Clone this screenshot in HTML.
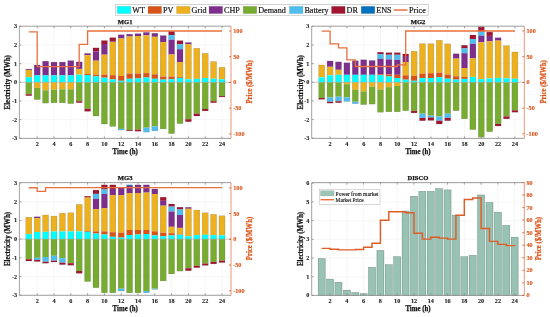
<!DOCTYPE html>
<html><head><meta charset="utf-8"><title>Chart</title>
<style>
html,body{margin:0;padding:0;background:#fff;}
body{width:550px;height:317px;overflow:hidden;}
svg{display:block;}
.txt{opacity:0.995;}
text{font-family:"Liberation Serif", serif;}
.tk{font-size:6.2px;font-weight:bold;fill:#1a1a1a;stroke:#1a1a1a;stroke-width:0.12px;}
.tt{font-size:6.6px;font-weight:bold;fill:#111;stroke:#111;stroke-width:0.25px;}
.lb{font-size:7.6px;font-weight:bold;fill:#111;stroke:#111;stroke-width:0.25px;}
.tm{font-size:7.2px;}
.lg{font-size:8.2px;fill:#111;stroke:#111;stroke-width:0.18px;}
.lg2{font-size:6.5px;fill:#111;stroke:#111;stroke-width:0.15px;}
.or{fill:#D95319;stroke:#D95319;}
</style></head>
<body>
<svg width="550" height="317" viewBox="0 0 550 317">
<rect width="550" height="317" fill="#fff"/>
<rect x="115.6" y="4.5" width="312.6" height="10.8" fill="#fff" stroke="#c8c8c8" stroke-width="0.8"/>
<rect x="117.2" y="6.3" width="13.6" height="7.3" fill="#00FFFF" stroke="#555" stroke-opacity="0.3" stroke-width="0.4"/>
<rect x="148" y="6.3" width="13.6" height="7.3" fill="#D95319" stroke="#555" stroke-opacity="0.3" stroke-width="0.4"/>
<rect x="176.5" y="6.3" width="13.6" height="7.3" fill="#EDB120" stroke="#555" stroke-opacity="0.3" stroke-width="0.4"/>
<rect x="209" y="6.3" width="13.6" height="7.3" fill="#7E2F8E" stroke="#555" stroke-opacity="0.3" stroke-width="0.4"/>
<rect x="243.2" y="6.3" width="13.6" height="7.3" fill="#77AC30" stroke="#555" stroke-opacity="0.3" stroke-width="0.4"/>
<rect x="289.4" y="6.3" width="13.6" height="7.3" fill="#4DBEEE" stroke="#555" stroke-opacity="0.3" stroke-width="0.4"/>
<rect x="331.5" y="6.3" width="13.6" height="7.3" fill="#A2142F" stroke="#555" stroke-opacity="0.3" stroke-width="0.4"/>
<rect x="361.2" y="6.3" width="13.6" height="7.3" fill="#0072BD" stroke="#555" stroke-opacity="0.3" stroke-width="0.4"/>
<line x1="394" y1="10" x2="407.5" y2="10" stroke="#E8703F" stroke-width="1.5"/>
<line x1="37.2" y1="26.2" x2="37.2" y2="138.4" stroke="#f0f0f0" stroke-width="0.6"/>
<line x1="54" y1="26.2" x2="54" y2="138.4" stroke="#f0f0f0" stroke-width="0.6"/>
<line x1="70.8" y1="26.2" x2="70.8" y2="138.4" stroke="#f0f0f0" stroke-width="0.6"/>
<line x1="87.6" y1="26.2" x2="87.6" y2="138.4" stroke="#f0f0f0" stroke-width="0.6"/>
<line x1="104.4" y1="26.2" x2="104.4" y2="138.4" stroke="#f0f0f0" stroke-width="0.6"/>
<line x1="121.2" y1="26.2" x2="121.2" y2="138.4" stroke="#f0f0f0" stroke-width="0.6"/>
<line x1="138" y1="26.2" x2="138" y2="138.4" stroke="#f0f0f0" stroke-width="0.6"/>
<line x1="154.8" y1="26.2" x2="154.8" y2="138.4" stroke="#f0f0f0" stroke-width="0.6"/>
<line x1="171.6" y1="26.2" x2="171.6" y2="138.4" stroke="#f0f0f0" stroke-width="0.6"/>
<line x1="188.4" y1="26.2" x2="188.4" y2="138.4" stroke="#f0f0f0" stroke-width="0.6"/>
<line x1="205.2" y1="26.2" x2="205.2" y2="138.4" stroke="#f0f0f0" stroke-width="0.6"/>
<line x1="222" y1="26.2" x2="222" y2="138.4" stroke="#f0f0f0" stroke-width="0.6"/>
<line x1="19.4" y1="26.35" x2="231" y2="26.35" stroke="#f0f0f0" stroke-width="0.6"/>
<line x1="19.4" y1="45" x2="231" y2="45" stroke="#f0f0f0" stroke-width="0.6"/>
<line x1="19.4" y1="63.65" x2="231" y2="63.65" stroke="#f0f0f0" stroke-width="0.6"/>
<line x1="19.4" y1="82.3" x2="231" y2="82.3" stroke="#f0f0f0" stroke-width="0.6"/>
<line x1="19.4" y1="100.95" x2="231" y2="100.95" stroke="#f0f0f0" stroke-width="0.6"/>
<line x1="19.4" y1="119.6" x2="231" y2="119.6" stroke="#f0f0f0" stroke-width="0.6"/>
<line x1="19.4" y1="138.25" x2="231" y2="138.25" stroke="#f0f0f0" stroke-width="0.6"/>
<rect x="25.8" y="69" width="6" height="0.9" fill="#7E2F8E"/>
<rect x="25.8" y="69.9" width="6" height="7.3" fill="#EDB120"/>
<rect x="25.8" y="77.2" width="6" height="5.1" fill="#00FFFF"/>
<rect x="25.8" y="82.3" width="6" height="11.9" fill="#77AC30"/>
<rect x="25.8" y="94.2" width="6" height="1.5" fill="#A2142F"/>
<rect x="25.8" y="69" width="6" height="26.7" fill="none" stroke="#333" stroke-opacity="0.35" stroke-width="0.4"/>
<rect x="34.2" y="65" width="6" height="10.4" fill="#7E2F8E"/>
<rect x="34.2" y="75.4" width="6" height="6.9" fill="#00FFFF"/>
<rect x="34.2" y="82.3" width="6" height="5.6" fill="#EDB120"/>
<rect x="34.2" y="87.9" width="6" height="11.7" fill="#77AC30"/>
<rect x="34.2" y="65" width="6" height="34.6" fill="none" stroke="#333" stroke-opacity="0.35" stroke-width="0.4"/>
<rect x="42.6" y="61.2" width="6" height="14.2" fill="#7E2F8E"/>
<rect x="42.6" y="75.4" width="6" height="6.9" fill="#00FFFF"/>
<rect x="42.6" y="82.3" width="6" height="8" fill="#EDB120"/>
<rect x="42.6" y="90.3" width="6" height="12.8" fill="#77AC30"/>
<rect x="42.6" y="61.2" width="6" height="41.9" fill="none" stroke="#333" stroke-opacity="0.35" stroke-width="0.4"/>
<rect x="51" y="62.1" width="6" height="13.3" fill="#7E2F8E"/>
<rect x="51" y="75.4" width="6" height="6.9" fill="#00FFFF"/>
<rect x="51" y="82.3" width="6" height="7.5" fill="#EDB120"/>
<rect x="51" y="89.8" width="6" height="13" fill="#77AC30"/>
<rect x="51" y="62.1" width="6" height="40.7" fill="none" stroke="#333" stroke-opacity="0.35" stroke-width="0.4"/>
<rect x="59.4" y="62.1" width="6" height="13.3" fill="#7E2F8E"/>
<rect x="59.4" y="75.4" width="6" height="6.9" fill="#00FFFF"/>
<rect x="59.4" y="82.3" width="6" height="7" fill="#EDB120"/>
<rect x="59.4" y="89.3" width="6" height="13.5" fill="#77AC30"/>
<rect x="59.4" y="62.1" width="6" height="40.7" fill="none" stroke="#333" stroke-opacity="0.35" stroke-width="0.4"/>
<rect x="67.8" y="60.7" width="6" height="14.7" fill="#7E2F8E"/>
<rect x="67.8" y="75.4" width="6" height="6.9" fill="#00FFFF"/>
<rect x="67.8" y="82.3" width="6" height="7" fill="#EDB120"/>
<rect x="67.8" y="89.3" width="6" height="14.3" fill="#77AC30"/>
<rect x="67.8" y="60.7" width="6" height="42.9" fill="none" stroke="#333" stroke-opacity="0.35" stroke-width="0.4"/>
<rect x="76.2" y="61.9" width="6" height="7" fill="#7E2F8E"/>
<rect x="76.2" y="68.9" width="6" height="5.8" fill="#EDB120"/>
<rect x="76.2" y="74.7" width="6" height="7.6" fill="#00FFFF"/>
<rect x="76.2" y="82.3" width="6" height="18.9" fill="#77AC30"/>
<rect x="76.2" y="101.2" width="6" height="1.5" fill="#A2142F"/>
<rect x="76.2" y="61.9" width="6" height="40.8" fill="none" stroke="#333" stroke-opacity="0.35" stroke-width="0.4"/>
<rect x="84.6" y="53.4" width="6" height="1.8" fill="#7E2F8E"/>
<rect x="84.6" y="55.2" width="6" height="18.8" fill="#EDB120"/>
<rect x="84.6" y="74" width="6" height="1" fill="#D95319"/>
<rect x="84.6" y="75" width="6" height="7.3" fill="#00FFFF"/>
<rect x="84.6" y="82.3" width="6" height="26.5" fill="#77AC30"/>
<rect x="84.6" y="108.8" width="6" height="2.5" fill="#A2142F"/>
<rect x="84.6" y="53.4" width="6" height="57.9" fill="none" stroke="#333" stroke-opacity="0.35" stroke-width="0.4"/>
<rect x="93" y="47.9" width="6" height="3.4" fill="#A2142F"/>
<rect x="93" y="51.3" width="6" height="9.4" fill="#7E2F8E"/>
<rect x="93" y="60.7" width="6" height="14" fill="#EDB120"/>
<rect x="93" y="74.7" width="6" height="1.7" fill="#D95319"/>
<rect x="93" y="76.4" width="6" height="5.9" fill="#00FFFF"/>
<rect x="93" y="82.3" width="6" height="33.7" fill="#77AC30"/>
<rect x="93" y="47.9" width="6" height="68.1" fill="none" stroke="#333" stroke-opacity="0.35" stroke-width="0.4"/>
<rect x="101.4" y="40.6" width="6" height="3.4" fill="#A2142F"/>
<rect x="101.4" y="44" width="6" height="10.7" fill="#7E2F8E"/>
<rect x="101.4" y="54.7" width="6" height="20" fill="#EDB120"/>
<rect x="101.4" y="74.7" width="6" height="3" fill="#D95319"/>
<rect x="101.4" y="77.7" width="6" height="4.6" fill="#00FFFF"/>
<rect x="101.4" y="82.3" width="6" height="41.7" fill="#77AC30"/>
<rect x="101.4" y="40.6" width="6" height="83.4" fill="none" stroke="#333" stroke-opacity="0.35" stroke-width="0.4"/>
<rect x="109.8" y="37.7" width="6" height="3.4" fill="#A2142F"/>
<rect x="109.8" y="41.1" width="6" height="0.8" fill="#7E2F8E"/>
<rect x="109.8" y="41.9" width="6" height="33.3" fill="#EDB120"/>
<rect x="109.8" y="75.2" width="6" height="4.2" fill="#D95319"/>
<rect x="109.8" y="79.4" width="6" height="2.9" fill="#00FFFF"/>
<rect x="109.8" y="82.3" width="6" height="44.1" fill="#77AC30"/>
<rect x="109.8" y="37.7" width="6" height="88.7" fill="none" stroke="#333" stroke-opacity="0.35" stroke-width="0.4"/>
<rect x="118.2" y="34.8" width="6" height="3.7" fill="#7E2F8E"/>
<rect x="118.2" y="38.5" width="6" height="37.5" fill="#EDB120"/>
<rect x="118.2" y="76" width="6" height="4.8" fill="#D95319"/>
<rect x="118.2" y="80.8" width="6" height="1.5" fill="#00FFFF"/>
<rect x="118.2" y="82.3" width="6" height="46.6" fill="#77AC30"/>
<rect x="118.2" y="128.9" width="6" height="1.1" fill="#4DBEEE"/>
<rect x="118.2" y="34.8" width="6" height="95.2" fill="none" stroke="#333" stroke-opacity="0.35" stroke-width="0.4"/>
<rect x="126.6" y="34.2" width="6" height="2.3" fill="#7E2F8E"/>
<rect x="126.6" y="36.5" width="6" height="37.1" fill="#EDB120"/>
<rect x="126.6" y="73.6" width="6" height="5.2" fill="#D95319"/>
<rect x="126.6" y="78.8" width="6" height="3.5" fill="#00FFFF"/>
<rect x="126.6" y="82.3" width="6" height="47.9" fill="#77AC30"/>
<rect x="126.6" y="130.2" width="6" height="0.8" fill="#A2142F"/>
<rect x="126.6" y="34.2" width="6" height="96.8" fill="none" stroke="#333" stroke-opacity="0.35" stroke-width="0.4"/>
<rect x="135" y="33.7" width="6" height="2.3" fill="#7E2F8E"/>
<rect x="135" y="36" width="6" height="37.6" fill="#EDB120"/>
<rect x="135" y="73.6" width="6" height="4.8" fill="#D95319"/>
<rect x="135" y="78.4" width="6" height="3.9" fill="#00FFFF"/>
<rect x="135" y="82.3" width="6" height="47.3" fill="#77AC30"/>
<rect x="135" y="129.6" width="6" height="1.6" fill="#A2142F"/>
<rect x="135" y="33.7" width="6" height="97.5" fill="none" stroke="#333" stroke-opacity="0.35" stroke-width="0.4"/>
<rect x="143.4" y="32.4" width="6" height="3" fill="#7E2F8E"/>
<rect x="143.4" y="35.4" width="6" height="37.7" fill="#EDB120"/>
<rect x="143.4" y="73.1" width="6" height="4.4" fill="#D95319"/>
<rect x="143.4" y="77.5" width="6" height="4.8" fill="#00FFFF"/>
<rect x="143.4" y="82.3" width="6" height="45.4" fill="#77AC30"/>
<rect x="143.4" y="127.7" width="6" height="4.4" fill="#4DBEEE"/>
<rect x="143.4" y="32.4" width="6" height="99.7" fill="none" stroke="#333" stroke-opacity="0.35" stroke-width="0.4"/>
<rect x="151.8" y="33.3" width="6" height="3.5" fill="#7E2F8E"/>
<rect x="151.8" y="36.8" width="6" height="37.5" fill="#EDB120"/>
<rect x="151.8" y="74.3" width="6" height="4.5" fill="#D95319"/>
<rect x="151.8" y="78.8" width="6" height="3.5" fill="#00FFFF"/>
<rect x="151.8" y="82.3" width="6" height="44.1" fill="#77AC30"/>
<rect x="151.8" y="126.4" width="6" height="4.4" fill="#4DBEEE"/>
<rect x="151.8" y="33.3" width="6" height="97.5" fill="none" stroke="#333" stroke-opacity="0.35" stroke-width="0.4"/>
<rect x="160.2" y="35.6" width="6" height="6.5" fill="#7E2F8E"/>
<rect x="160.2" y="42.1" width="6" height="34.5" fill="#EDB120"/>
<rect x="160.2" y="76.6" width="6" height="3" fill="#D95319"/>
<rect x="160.2" y="79.6" width="6" height="2.7" fill="#00FFFF"/>
<rect x="160.2" y="82.3" width="6" height="46.6" fill="#77AC30"/>
<rect x="160.2" y="35.6" width="6" height="93.3" fill="none" stroke="#333" stroke-opacity="0.35" stroke-width="0.4"/>
<rect x="168.6" y="31.3" width="6" height="3.8" fill="#A2142F"/>
<rect x="168.6" y="35.1" width="6" height="4.6" fill="#4DBEEE"/>
<rect x="168.6" y="39.7" width="6" height="14.8" fill="#7E2F8E"/>
<rect x="168.6" y="54.5" width="6" height="22.1" fill="#EDB120"/>
<rect x="168.6" y="76.6" width="6" height="2.7" fill="#D95319"/>
<rect x="168.6" y="79.3" width="6" height="3" fill="#00FFFF"/>
<rect x="168.6" y="82.3" width="6" height="51.3" fill="#77AC30"/>
<rect x="168.6" y="31.3" width="6" height="102.3" fill="none" stroke="#333" stroke-opacity="0.35" stroke-width="0.4"/>
<rect x="177" y="40.7" width="6" height="3.6" fill="#A2142F"/>
<rect x="177" y="44.3" width="6" height="4.9" fill="#4DBEEE"/>
<rect x="177" y="49.2" width="6" height="12.8" fill="#7E2F8E"/>
<rect x="177" y="62" width="6" height="15.2" fill="#EDB120"/>
<rect x="177" y="77.2" width="6" height="0.8" fill="#D95319"/>
<rect x="177" y="78" width="6" height="4.3" fill="#00FFFF"/>
<rect x="177" y="82.3" width="6" height="41.3" fill="#77AC30"/>
<rect x="177" y="40.7" width="6" height="82.9" fill="none" stroke="#333" stroke-opacity="0.35" stroke-width="0.4"/>
<rect x="185.4" y="42.5" width="6" height="1.8" fill="#7E2F8E"/>
<rect x="185.4" y="44.3" width="6" height="35" fill="#EDB120"/>
<rect x="185.4" y="79.3" width="6" height="3" fill="#00FFFF"/>
<rect x="185.4" y="82.3" width="6" height="36.9" fill="#77AC30"/>
<rect x="185.4" y="119.2" width="6" height="2.5" fill="#A2142F"/>
<rect x="185.4" y="42.5" width="6" height="79.2" fill="none" stroke="#333" stroke-opacity="0.35" stroke-width="0.4"/>
<rect x="193.8" y="48.3" width="6" height="30.6" fill="#EDB120"/>
<rect x="193.8" y="78.9" width="6" height="3.4" fill="#00FFFF"/>
<rect x="193.8" y="82.3" width="6" height="31.4" fill="#77AC30"/>
<rect x="193.8" y="113.7" width="6" height="2.3" fill="#A2142F"/>
<rect x="193.8" y="48.3" width="6" height="67.7" fill="none" stroke="#333" stroke-opacity="0.35" stroke-width="0.4"/>
<rect x="202.2" y="53.3" width="6" height="24.7" fill="#EDB120"/>
<rect x="202.2" y="78" width="6" height="4.3" fill="#00FFFF"/>
<rect x="202.2" y="82.3" width="6" height="26.7" fill="#77AC30"/>
<rect x="202.2" y="109" width="6" height="1.9" fill="#A2142F"/>
<rect x="202.2" y="53.3" width="6" height="57.6" fill="none" stroke="#333" stroke-opacity="0.35" stroke-width="0.4"/>
<rect x="210.6" y="61.6" width="6" height="17.2" fill="#EDB120"/>
<rect x="210.6" y="78.8" width="6" height="3.5" fill="#00FFFF"/>
<rect x="210.6" y="82.3" width="6" height="18.9" fill="#77AC30"/>
<rect x="210.6" y="101.2" width="6" height="1.5" fill="#A2142F"/>
<rect x="210.6" y="61.6" width="6" height="41.1" fill="none" stroke="#333" stroke-opacity="0.35" stroke-width="0.4"/>
<rect x="219" y="67.3" width="6" height="12" fill="#EDB120"/>
<rect x="219" y="79.3" width="6" height="3" fill="#00FFFF"/>
<rect x="219" y="82.3" width="6" height="13.8" fill="#77AC30"/>
<rect x="219" y="96.1" width="6" height="0.9" fill="#A2142F"/>
<rect x="219" y="67.3" width="6" height="29.7" fill="none" stroke="#333" stroke-opacity="0.35" stroke-width="0.4"/>
<line x1="19.4" y1="82.3" x2="231" y2="82.3" stroke="#9a9a9a" stroke-width="0.5"/>
<path d="M28.8,31.85 L37.2,31.85 L37.2,66.7 L45.6,66.7 L45.6,66.7 L54,66.7 L54,66.7 L62.4,66.7 L62.4,66.7 L70.8,66.7 L70.8,66.7 L79.2,66.7 L79.2,44.4 L87.6,44.4 L87.6,31 L96,31 L96,31 L104.4,31 L104.4,31 L112.8,31 L112.8,31 L121.2,31 L121.2,31 L129.6,31 L129.6,31 L138,31 L138,31 L146.4,31 L146.4,31 L154.8,31 L154.8,31 L163.2,31 L163.2,31 L171.6,31 L171.6,31 L180,31 L180,31 L188.4,31 L188.4,31 L196.8,31 L196.8,31 L205.2,31 L205.2,31 L213.6,31 L213.6,31 L222,31 L222,31" fill="none" stroke="#E8703F" stroke-width="1.3" stroke-linejoin="miter"/>
<line x1="19.4" y1="26.2" x2="231" y2="26.2" stroke="#8a8a8a" stroke-width="0.8"/>
<line x1="19.4" y1="138.4" x2="231" y2="138.4" stroke="#8a8a8a" stroke-width="0.8"/>
<line x1="19.4" y1="26.2" x2="19.4" y2="138.4" stroke="#8a8a8a" stroke-width="0.8"/>
<line x1="231" y1="26.2" x2="231" y2="138.4" stroke="#D95319" stroke-opacity="0.75" stroke-width="0.8"/>
<line x1="37.2" y1="138.4" x2="37.2" y2="136.4" stroke="#8a8a8a" stroke-width="0.8"/>
<line x1="37.2" y1="26.2" x2="37.2" y2="28.2" stroke="#8a8a8a" stroke-width="0.8"/>
<line x1="54" y1="138.4" x2="54" y2="136.4" stroke="#8a8a8a" stroke-width="0.8"/>
<line x1="54" y1="26.2" x2="54" y2="28.2" stroke="#8a8a8a" stroke-width="0.8"/>
<line x1="70.8" y1="138.4" x2="70.8" y2="136.4" stroke="#8a8a8a" stroke-width="0.8"/>
<line x1="70.8" y1="26.2" x2="70.8" y2="28.2" stroke="#8a8a8a" stroke-width="0.8"/>
<line x1="87.6" y1="138.4" x2="87.6" y2="136.4" stroke="#8a8a8a" stroke-width="0.8"/>
<line x1="87.6" y1="26.2" x2="87.6" y2="28.2" stroke="#8a8a8a" stroke-width="0.8"/>
<line x1="104.4" y1="138.4" x2="104.4" y2="136.4" stroke="#8a8a8a" stroke-width="0.8"/>
<line x1="104.4" y1="26.2" x2="104.4" y2="28.2" stroke="#8a8a8a" stroke-width="0.8"/>
<line x1="121.2" y1="138.4" x2="121.2" y2="136.4" stroke="#8a8a8a" stroke-width="0.8"/>
<line x1="121.2" y1="26.2" x2="121.2" y2="28.2" stroke="#8a8a8a" stroke-width="0.8"/>
<line x1="138" y1="138.4" x2="138" y2="136.4" stroke="#8a8a8a" stroke-width="0.8"/>
<line x1="138" y1="26.2" x2="138" y2="28.2" stroke="#8a8a8a" stroke-width="0.8"/>
<line x1="154.8" y1="138.4" x2="154.8" y2="136.4" stroke="#8a8a8a" stroke-width="0.8"/>
<line x1="154.8" y1="26.2" x2="154.8" y2="28.2" stroke="#8a8a8a" stroke-width="0.8"/>
<line x1="171.6" y1="138.4" x2="171.6" y2="136.4" stroke="#8a8a8a" stroke-width="0.8"/>
<line x1="171.6" y1="26.2" x2="171.6" y2="28.2" stroke="#8a8a8a" stroke-width="0.8"/>
<line x1="188.4" y1="138.4" x2="188.4" y2="136.4" stroke="#8a8a8a" stroke-width="0.8"/>
<line x1="188.4" y1="26.2" x2="188.4" y2="28.2" stroke="#8a8a8a" stroke-width="0.8"/>
<line x1="205.2" y1="138.4" x2="205.2" y2="136.4" stroke="#8a8a8a" stroke-width="0.8"/>
<line x1="205.2" y1="26.2" x2="205.2" y2="28.2" stroke="#8a8a8a" stroke-width="0.8"/>
<line x1="222" y1="138.4" x2="222" y2="136.4" stroke="#8a8a8a" stroke-width="0.8"/>
<line x1="222" y1="26.2" x2="222" y2="28.2" stroke="#8a8a8a" stroke-width="0.8"/>
<line x1="19.4" y1="26.35" x2="21.4" y2="26.35" stroke="#8a8a8a" stroke-width="0.8"/>
<line x1="19.4" y1="45" x2="21.4" y2="45" stroke="#8a8a8a" stroke-width="0.8"/>
<line x1="19.4" y1="63.65" x2="21.4" y2="63.65" stroke="#8a8a8a" stroke-width="0.8"/>
<line x1="19.4" y1="82.3" x2="21.4" y2="82.3" stroke="#8a8a8a" stroke-width="0.8"/>
<line x1="19.4" y1="100.95" x2="21.4" y2="100.95" stroke="#8a8a8a" stroke-width="0.8"/>
<line x1="19.4" y1="119.6" x2="21.4" y2="119.6" stroke="#8a8a8a" stroke-width="0.8"/>
<line x1="19.4" y1="138.25" x2="21.4" y2="138.25" stroke="#8a8a8a" stroke-width="0.8"/>
<line x1="231" y1="31" x2="229" y2="31" stroke="#D95319" stroke-width="0.8"/>
<line x1="231" y1="56.73" x2="229" y2="56.73" stroke="#D95319" stroke-width="0.8"/>
<line x1="231" y1="82.45" x2="229" y2="82.45" stroke="#D95319" stroke-width="0.8"/>
<line x1="231" y1="108.17" x2="229" y2="108.17" stroke="#D95319" stroke-width="0.8"/>
<line x1="231" y1="133.9" x2="229" y2="133.9" stroke="#D95319" stroke-width="0.8"/>
<line x1="330.1" y1="26.2" x2="330.1" y2="138.4" stroke="#f0f0f0" stroke-width="0.6"/>
<line x1="346.9" y1="26.2" x2="346.9" y2="138.4" stroke="#f0f0f0" stroke-width="0.6"/>
<line x1="363.7" y1="26.2" x2="363.7" y2="138.4" stroke="#f0f0f0" stroke-width="0.6"/>
<line x1="380.5" y1="26.2" x2="380.5" y2="138.4" stroke="#f0f0f0" stroke-width="0.6"/>
<line x1="397.3" y1="26.2" x2="397.3" y2="138.4" stroke="#f0f0f0" stroke-width="0.6"/>
<line x1="414.1" y1="26.2" x2="414.1" y2="138.4" stroke="#f0f0f0" stroke-width="0.6"/>
<line x1="430.9" y1="26.2" x2="430.9" y2="138.4" stroke="#f0f0f0" stroke-width="0.6"/>
<line x1="447.7" y1="26.2" x2="447.7" y2="138.4" stroke="#f0f0f0" stroke-width="0.6"/>
<line x1="464.5" y1="26.2" x2="464.5" y2="138.4" stroke="#f0f0f0" stroke-width="0.6"/>
<line x1="481.3" y1="26.2" x2="481.3" y2="138.4" stroke="#f0f0f0" stroke-width="0.6"/>
<line x1="498.1" y1="26.2" x2="498.1" y2="138.4" stroke="#f0f0f0" stroke-width="0.6"/>
<line x1="514.9" y1="26.2" x2="514.9" y2="138.4" stroke="#f0f0f0" stroke-width="0.6"/>
<line x1="311.7" y1="26.35" x2="524.3" y2="26.35" stroke="#f0f0f0" stroke-width="0.6"/>
<line x1="311.7" y1="45" x2="524.3" y2="45" stroke="#f0f0f0" stroke-width="0.6"/>
<line x1="311.7" y1="63.65" x2="524.3" y2="63.65" stroke="#f0f0f0" stroke-width="0.6"/>
<line x1="311.7" y1="82.3" x2="524.3" y2="82.3" stroke="#f0f0f0" stroke-width="0.6"/>
<line x1="311.7" y1="100.95" x2="524.3" y2="100.95" stroke="#f0f0f0" stroke-width="0.6"/>
<line x1="311.7" y1="119.6" x2="524.3" y2="119.6" stroke="#f0f0f0" stroke-width="0.6"/>
<line x1="311.7" y1="138.25" x2="524.3" y2="138.25" stroke="#f0f0f0" stroke-width="0.6"/>
<rect x="318.7" y="65" width="6" height="12.4" fill="#EDB120"/>
<rect x="318.7" y="77.4" width="6" height="4.9" fill="#00FFFF"/>
<rect x="318.7" y="82.3" width="6" height="15.7" fill="#77AC30"/>
<rect x="318.7" y="98" width="6" height="1.3" fill="#A2142F"/>
<rect x="318.7" y="65" width="6" height="34.3" fill="none" stroke="#333" stroke-opacity="0.35" stroke-width="0.4"/>
<rect x="327.1" y="61" width="6" height="5.8" fill="#7E2F8E"/>
<rect x="327.1" y="66.8" width="6" height="8.5" fill="#EDB120"/>
<rect x="327.1" y="75.3" width="6" height="7" fill="#00FFFF"/>
<rect x="327.1" y="82.3" width="6" height="15.1" fill="#77AC30"/>
<rect x="327.1" y="97.4" width="6" height="4.4" fill="#4DBEEE"/>
<rect x="327.1" y="101.8" width="6" height="1.3" fill="#A2142F"/>
<rect x="327.1" y="61" width="6" height="42.1" fill="none" stroke="#333" stroke-opacity="0.35" stroke-width="0.4"/>
<rect x="335.5" y="61.9" width="6" height="7.9" fill="#7E2F8E"/>
<rect x="335.5" y="69.8" width="6" height="5" fill="#EDB120"/>
<rect x="335.5" y="74.8" width="6" height="7.5" fill="#00FFFF"/>
<rect x="335.5" y="82.3" width="6" height="14.4" fill="#77AC30"/>
<rect x="335.5" y="96.7" width="6" height="4.5" fill="#4DBEEE"/>
<rect x="335.5" y="101.2" width="6" height="1.5" fill="#A2142F"/>
<rect x="335.5" y="61.9" width="6" height="40.8" fill="none" stroke="#333" stroke-opacity="0.35" stroke-width="0.4"/>
<rect x="343.9" y="62.8" width="6" height="12" fill="#7E2F8E"/>
<rect x="343.9" y="74.8" width="6" height="7.5" fill="#00FFFF"/>
<rect x="343.9" y="82.3" width="6" height="1.9" fill="#EDB120"/>
<rect x="343.9" y="84.2" width="6" height="13.2" fill="#77AC30"/>
<rect x="343.9" y="97.4" width="6" height="4" fill="#4DBEEE"/>
<rect x="343.9" y="62.8" width="6" height="38.6" fill="none" stroke="#333" stroke-opacity="0.35" stroke-width="0.4"/>
<rect x="352.3" y="60.8" width="6" height="14" fill="#7E2F8E"/>
<rect x="352.3" y="74.8" width="6" height="7.5" fill="#00FFFF"/>
<rect x="352.3" y="82.3" width="6" height="7.6" fill="#EDB120"/>
<rect x="352.3" y="89.9" width="6" height="11.9" fill="#77AC30"/>
<rect x="352.3" y="101.8" width="6" height="1.9" fill="#4DBEEE"/>
<rect x="352.3" y="60.8" width="6" height="42.9" fill="none" stroke="#333" stroke-opacity="0.35" stroke-width="0.4"/>
<rect x="360.7" y="59.8" width="6" height="15" fill="#7E2F8E"/>
<rect x="360.7" y="74.8" width="6" height="7.5" fill="#00FFFF"/>
<rect x="360.7" y="82.3" width="6" height="9.1" fill="#EDB120"/>
<rect x="360.7" y="91.4" width="6" height="13.2" fill="#77AC30"/>
<rect x="360.7" y="59.8" width="6" height="44.8" fill="none" stroke="#333" stroke-opacity="0.35" stroke-width="0.4"/>
<rect x="369.1" y="60.5" width="6" height="14.3" fill="#7E2F8E"/>
<rect x="369.1" y="74.8" width="6" height="7.5" fill="#00FFFF"/>
<rect x="369.1" y="82.3" width="6" height="4.3" fill="#EDB120"/>
<rect x="369.1" y="86.6" width="6" height="17.5" fill="#77AC30"/>
<rect x="369.1" y="60.5" width="6" height="43.6" fill="none" stroke="#333" stroke-opacity="0.35" stroke-width="0.4"/>
<rect x="377.5" y="52.2" width="6" height="1.9" fill="#A2142F"/>
<rect x="377.5" y="54.1" width="6" height="4.8" fill="#4DBEEE"/>
<rect x="377.5" y="58.9" width="6" height="15.3" fill="#7E2F8E"/>
<rect x="377.5" y="74.2" width="6" height="0.9" fill="#D95319"/>
<rect x="377.5" y="75.1" width="6" height="7.2" fill="#00FFFF"/>
<rect x="377.5" y="82.3" width="6" height="7.2" fill="#EDB120"/>
<rect x="377.5" y="89.5" width="6" height="22.7" fill="#77AC30"/>
<rect x="377.5" y="52.2" width="6" height="60" fill="none" stroke="#333" stroke-opacity="0.35" stroke-width="0.4"/>
<rect x="385.9" y="52.7" width="6" height="2.1" fill="#A2142F"/>
<rect x="385.9" y="54.8" width="6" height="4.6" fill="#4DBEEE"/>
<rect x="385.9" y="59.4" width="6" height="15" fill="#7E2F8E"/>
<rect x="385.9" y="74.4" width="6" height="2.1" fill="#D95319"/>
<rect x="385.9" y="76.5" width="6" height="5.8" fill="#00FFFF"/>
<rect x="385.9" y="82.3" width="6" height="4.9" fill="#EDB120"/>
<rect x="385.9" y="87.2" width="6" height="24.6" fill="#77AC30"/>
<rect x="385.9" y="52.7" width="6" height="59.1" fill="none" stroke="#333" stroke-opacity="0.35" stroke-width="0.4"/>
<rect x="394.3" y="52.7" width="6" height="2.1" fill="#A2142F"/>
<rect x="394.3" y="54.8" width="6" height="5" fill="#4DBEEE"/>
<rect x="394.3" y="59.8" width="6" height="15" fill="#7E2F8E"/>
<rect x="394.3" y="74.8" width="6" height="3.2" fill="#D95319"/>
<rect x="394.3" y="78" width="6" height="4.3" fill="#00FFFF"/>
<rect x="394.3" y="82.3" width="6" height="3.7" fill="#EDB120"/>
<rect x="394.3" y="86" width="6" height="25.8" fill="#77AC30"/>
<rect x="394.3" y="52.7" width="6" height="59.1" fill="none" stroke="#333" stroke-opacity="0.35" stroke-width="0.4"/>
<rect x="402.7" y="54" width="6" height="2" fill="#A2142F"/>
<rect x="402.7" y="56" width="6" height="6" fill="#7E2F8E"/>
<rect x="402.7" y="62" width="6" height="13.3" fill="#EDB120"/>
<rect x="402.7" y="75.3" width="6" height="4.4" fill="#D95319"/>
<rect x="402.7" y="79.7" width="6" height="2.6" fill="#00FFFF"/>
<rect x="402.7" y="82.3" width="6" height="28.4" fill="#77AC30"/>
<rect x="402.7" y="54" width="6" height="56.7" fill="none" stroke="#333" stroke-opacity="0.35" stroke-width="0.4"/>
<rect x="411.1" y="51.3" width="6" height="24.5" fill="#EDB120"/>
<rect x="411.1" y="75.8" width="6" height="5" fill="#D95319"/>
<rect x="411.1" y="80.8" width="6" height="1.5" fill="#00FFFF"/>
<rect x="411.1" y="82.3" width="6" height="28.6" fill="#77AC30"/>
<rect x="411.1" y="110.9" width="6" height="2" fill="#A2142F"/>
<rect x="411.1" y="51.3" width="6" height="61.6" fill="none" stroke="#333" stroke-opacity="0.35" stroke-width="0.4"/>
<rect x="419.5" y="43.7" width="6" height="29.9" fill="#EDB120"/>
<rect x="419.5" y="73.6" width="6" height="4.5" fill="#D95319"/>
<rect x="419.5" y="78.1" width="6" height="4.2" fill="#00FFFF"/>
<rect x="419.5" y="82.3" width="6" height="31.4" fill="#77AC30"/>
<rect x="419.5" y="113.7" width="6" height="4.2" fill="#4DBEEE"/>
<rect x="419.5" y="117.9" width="6" height="2.8" fill="#A2142F"/>
<rect x="419.5" y="43.7" width="6" height="77" fill="none" stroke="#333" stroke-opacity="0.35" stroke-width="0.4"/>
<rect x="427.9" y="43.7" width="6" height="29.5" fill="#EDB120"/>
<rect x="427.9" y="73.2" width="6" height="4.9" fill="#D95319"/>
<rect x="427.9" y="78.1" width="6" height="4.2" fill="#00FFFF"/>
<rect x="427.9" y="82.3" width="6" height="33.3" fill="#77AC30"/>
<rect x="427.9" y="115.6" width="6" height="1.9" fill="#4DBEEE"/>
<rect x="427.9" y="117.5" width="6" height="2.9" fill="#A2142F"/>
<rect x="427.9" y="43.7" width="6" height="76.7" fill="none" stroke="#333" stroke-opacity="0.35" stroke-width="0.4"/>
<rect x="436.3" y="40.3" width="6" height="32.4" fill="#EDB120"/>
<rect x="436.3" y="72.7" width="6" height="4.5" fill="#D95319"/>
<rect x="436.3" y="77.2" width="6" height="5.1" fill="#00FFFF"/>
<rect x="436.3" y="82.3" width="6" height="34.1" fill="#77AC30"/>
<rect x="436.3" y="116.4" width="6" height="4.3" fill="#4DBEEE"/>
<rect x="436.3" y="120.7" width="6" height="3.3" fill="#A2142F"/>
<rect x="436.3" y="40.3" width="6" height="83.7" fill="none" stroke="#333" stroke-opacity="0.35" stroke-width="0.4"/>
<rect x="444.7" y="43.9" width="6" height="30.6" fill="#EDB120"/>
<rect x="444.7" y="74.5" width="6" height="4.2" fill="#D95319"/>
<rect x="444.7" y="78.7" width="6" height="3.6" fill="#00FFFF"/>
<rect x="444.7" y="82.3" width="6" height="31.4" fill="#77AC30"/>
<rect x="444.7" y="113.7" width="6" height="4.2" fill="#4DBEEE"/>
<rect x="444.7" y="117.9" width="6" height="2.8" fill="#A2142F"/>
<rect x="444.7" y="43.9" width="6" height="76.8" fill="none" stroke="#333" stroke-opacity="0.35" stroke-width="0.4"/>
<rect x="453.1" y="53.8" width="6" height="4.8" fill="#7E2F8E"/>
<rect x="453.1" y="58.6" width="6" height="17.7" fill="#EDB120"/>
<rect x="453.1" y="76.3" width="6" height="3.3" fill="#D95319"/>
<rect x="453.1" y="79.6" width="6" height="2.7" fill="#00FFFF"/>
<rect x="453.1" y="82.3" width="6" height="28.4" fill="#77AC30"/>
<rect x="453.1" y="53.8" width="6" height="56.9" fill="none" stroke="#333" stroke-opacity="0.35" stroke-width="0.4"/>
<rect x="461.5" y="45.3" width="6" height="3.1" fill="#A2142F"/>
<rect x="461.5" y="48.4" width="6" height="4.8" fill="#4DBEEE"/>
<rect x="461.5" y="53.2" width="6" height="14.8" fill="#7E2F8E"/>
<rect x="461.5" y="68" width="6" height="9" fill="#EDB120"/>
<rect x="461.5" y="77" width="6" height="1.9" fill="#D95319"/>
<rect x="461.5" y="78.9" width="6" height="3.4" fill="#00FFFF"/>
<rect x="461.5" y="82.3" width="6" height="36.5" fill="#77AC30"/>
<rect x="461.5" y="45.3" width="6" height="73.5" fill="none" stroke="#333" stroke-opacity="0.35" stroke-width="0.4"/>
<rect x="469.9" y="35" width="6" height="4.1" fill="#A2142F"/>
<rect x="469.9" y="39.1" width="6" height="4.7" fill="#4DBEEE"/>
<rect x="469.9" y="43.8" width="6" height="14.6" fill="#7E2F8E"/>
<rect x="469.9" y="58.4" width="6" height="18.5" fill="#EDB120"/>
<rect x="469.9" y="76.9" width="6" height="5.4" fill="#00FFFF"/>
<rect x="469.9" y="82.3" width="6" height="47.3" fill="#77AC30"/>
<rect x="469.9" y="35" width="6" height="94.6" fill="none" stroke="#333" stroke-opacity="0.35" stroke-width="0.4"/>
<rect x="478.3" y="26.8" width="6" height="4.8" fill="#A2142F"/>
<rect x="478.3" y="31.6" width="6" height="4.1" fill="#4DBEEE"/>
<rect x="478.3" y="35.7" width="6" height="6.6" fill="#7E2F8E"/>
<rect x="478.3" y="42.3" width="6" height="36.9" fill="#EDB120"/>
<rect x="478.3" y="79.2" width="6" height="3.1" fill="#00FFFF"/>
<rect x="478.3" y="82.3" width="6" height="54.9" fill="#77AC30"/>
<rect x="478.3" y="26.8" width="6" height="110.4" fill="none" stroke="#333" stroke-opacity="0.35" stroke-width="0.4"/>
<rect x="486.7" y="32.1" width="6" height="3.8" fill="#A2142F"/>
<rect x="486.7" y="35.9" width="6" height="5.5" fill="#7E2F8E"/>
<rect x="486.7" y="41.4" width="6" height="37" fill="#EDB120"/>
<rect x="486.7" y="78.4" width="6" height="3.9" fill="#00FFFF"/>
<rect x="486.7" y="82.3" width="6" height="49.4" fill="#77AC30"/>
<rect x="486.7" y="32.1" width="6" height="99.6" fill="none" stroke="#333" stroke-opacity="0.35" stroke-width="0.4"/>
<rect x="495.1" y="37.8" width="6" height="2.8" fill="#7E2F8E"/>
<rect x="495.1" y="40.6" width="6" height="37.3" fill="#EDB120"/>
<rect x="495.1" y="77.9" width="6" height="4.4" fill="#00FFFF"/>
<rect x="495.1" y="82.3" width="6" height="41.6" fill="#77AC30"/>
<rect x="495.1" y="123.9" width="6" height="2.1" fill="#A2142F"/>
<rect x="495.1" y="37.8" width="6" height="88.2" fill="none" stroke="#333" stroke-opacity="0.35" stroke-width="0.4"/>
<rect x="503.5" y="45.7" width="6" height="32.6" fill="#EDB120"/>
<rect x="503.5" y="78.3" width="6" height="4" fill="#00FFFF"/>
<rect x="503.5" y="82.3" width="6" height="34.1" fill="#77AC30"/>
<rect x="503.5" y="116.4" width="6" height="2.4" fill="#A2142F"/>
<rect x="503.5" y="45.7" width="6" height="73.1" fill="none" stroke="#333" stroke-opacity="0.35" stroke-width="0.4"/>
<rect x="511.9" y="52" width="6" height="26.8" fill="#EDB120"/>
<rect x="511.9" y="78.8" width="6" height="3.5" fill="#00FFFF"/>
<rect x="511.9" y="82.3" width="6" height="28" fill="#77AC30"/>
<rect x="511.9" y="110.3" width="6" height="1.9" fill="#A2142F"/>
<rect x="511.9" y="52" width="6" height="60.2" fill="none" stroke="#333" stroke-opacity="0.35" stroke-width="0.4"/>
<line x1="311.7" y1="82.3" x2="524.3" y2="82.3" stroke="#9a9a9a" stroke-width="0.5"/>
<path d="M321.7,31.2 L330.1,31.2 L330.1,43.9 L338.5,43.9 L338.5,47.8 L346.9,47.8 L346.9,59.9 L355.3,59.9 L355.3,66.5 L363.7,66.5 L363.7,66.5 L372.1,66.5 L372.1,66.5 L380.5,66.5 L380.5,66.5 L388.9,66.5 L388.9,66.5 L397.3,66.5 L397.3,64.8 L405.7,64.8 L405.7,31 L414.1,31 L414.1,31 L422.5,31 L422.5,31 L430.9,31 L430.9,31 L439.3,31 L439.3,31 L447.7,31 L447.7,31 L456.1,31 L456.1,31 L464.5,31 L464.5,31 L472.9,31 L472.9,31 L481.3,31 L481.3,31 L489.7,31 L489.7,31 L498.1,31 L498.1,31 L506.5,31 L506.5,31 L514.9,31 L514.9,31" fill="none" stroke="#E8703F" stroke-width="1.3" stroke-linejoin="miter"/>
<line x1="311.7" y1="26.2" x2="524.3" y2="26.2" stroke="#8a8a8a" stroke-width="0.8"/>
<line x1="311.7" y1="138.4" x2="524.3" y2="138.4" stroke="#8a8a8a" stroke-width="0.8"/>
<line x1="311.7" y1="26.2" x2="311.7" y2="138.4" stroke="#8a8a8a" stroke-width="0.8"/>
<line x1="524.3" y1="26.2" x2="524.3" y2="138.4" stroke="#D95319" stroke-opacity="0.75" stroke-width="0.8"/>
<line x1="330.1" y1="138.4" x2="330.1" y2="136.4" stroke="#8a8a8a" stroke-width="0.8"/>
<line x1="330.1" y1="26.2" x2="330.1" y2="28.2" stroke="#8a8a8a" stroke-width="0.8"/>
<line x1="346.9" y1="138.4" x2="346.9" y2="136.4" stroke="#8a8a8a" stroke-width="0.8"/>
<line x1="346.9" y1="26.2" x2="346.9" y2="28.2" stroke="#8a8a8a" stroke-width="0.8"/>
<line x1="363.7" y1="138.4" x2="363.7" y2="136.4" stroke="#8a8a8a" stroke-width="0.8"/>
<line x1="363.7" y1="26.2" x2="363.7" y2="28.2" stroke="#8a8a8a" stroke-width="0.8"/>
<line x1="380.5" y1="138.4" x2="380.5" y2="136.4" stroke="#8a8a8a" stroke-width="0.8"/>
<line x1="380.5" y1="26.2" x2="380.5" y2="28.2" stroke="#8a8a8a" stroke-width="0.8"/>
<line x1="397.3" y1="138.4" x2="397.3" y2="136.4" stroke="#8a8a8a" stroke-width="0.8"/>
<line x1="397.3" y1="26.2" x2="397.3" y2="28.2" stroke="#8a8a8a" stroke-width="0.8"/>
<line x1="414.1" y1="138.4" x2="414.1" y2="136.4" stroke="#8a8a8a" stroke-width="0.8"/>
<line x1="414.1" y1="26.2" x2="414.1" y2="28.2" stroke="#8a8a8a" stroke-width="0.8"/>
<line x1="430.9" y1="138.4" x2="430.9" y2="136.4" stroke="#8a8a8a" stroke-width="0.8"/>
<line x1="430.9" y1="26.2" x2="430.9" y2="28.2" stroke="#8a8a8a" stroke-width="0.8"/>
<line x1="447.7" y1="138.4" x2="447.7" y2="136.4" stroke="#8a8a8a" stroke-width="0.8"/>
<line x1="447.7" y1="26.2" x2="447.7" y2="28.2" stroke="#8a8a8a" stroke-width="0.8"/>
<line x1="464.5" y1="138.4" x2="464.5" y2="136.4" stroke="#8a8a8a" stroke-width="0.8"/>
<line x1="464.5" y1="26.2" x2="464.5" y2="28.2" stroke="#8a8a8a" stroke-width="0.8"/>
<line x1="481.3" y1="138.4" x2="481.3" y2="136.4" stroke="#8a8a8a" stroke-width="0.8"/>
<line x1="481.3" y1="26.2" x2="481.3" y2="28.2" stroke="#8a8a8a" stroke-width="0.8"/>
<line x1="498.1" y1="138.4" x2="498.1" y2="136.4" stroke="#8a8a8a" stroke-width="0.8"/>
<line x1="498.1" y1="26.2" x2="498.1" y2="28.2" stroke="#8a8a8a" stroke-width="0.8"/>
<line x1="514.9" y1="138.4" x2="514.9" y2="136.4" stroke="#8a8a8a" stroke-width="0.8"/>
<line x1="514.9" y1="26.2" x2="514.9" y2="28.2" stroke="#8a8a8a" stroke-width="0.8"/>
<line x1="311.7" y1="26.35" x2="313.7" y2="26.35" stroke="#8a8a8a" stroke-width="0.8"/>
<line x1="311.7" y1="45" x2="313.7" y2="45" stroke="#8a8a8a" stroke-width="0.8"/>
<line x1="311.7" y1="63.65" x2="313.7" y2="63.65" stroke="#8a8a8a" stroke-width="0.8"/>
<line x1="311.7" y1="82.3" x2="313.7" y2="82.3" stroke="#8a8a8a" stroke-width="0.8"/>
<line x1="311.7" y1="100.95" x2="313.7" y2="100.95" stroke="#8a8a8a" stroke-width="0.8"/>
<line x1="311.7" y1="119.6" x2="313.7" y2="119.6" stroke="#8a8a8a" stroke-width="0.8"/>
<line x1="311.7" y1="138.25" x2="313.7" y2="138.25" stroke="#8a8a8a" stroke-width="0.8"/>
<line x1="524.3" y1="31" x2="522.3" y2="31" stroke="#D95319" stroke-width="0.8"/>
<line x1="524.3" y1="56.73" x2="522.3" y2="56.73" stroke="#D95319" stroke-width="0.8"/>
<line x1="524.3" y1="82.45" x2="522.3" y2="82.45" stroke="#D95319" stroke-width="0.8"/>
<line x1="524.3" y1="108.17" x2="522.3" y2="108.17" stroke="#D95319" stroke-width="0.8"/>
<line x1="524.3" y1="133.9" x2="522.3" y2="133.9" stroke="#D95319" stroke-width="0.8"/>
<line x1="37.2" y1="182.6" x2="37.2" y2="295.3" stroke="#f0f0f0" stroke-width="0.6"/>
<line x1="54" y1="182.6" x2="54" y2="295.3" stroke="#f0f0f0" stroke-width="0.6"/>
<line x1="70.8" y1="182.6" x2="70.8" y2="295.3" stroke="#f0f0f0" stroke-width="0.6"/>
<line x1="87.6" y1="182.6" x2="87.6" y2="295.3" stroke="#f0f0f0" stroke-width="0.6"/>
<line x1="104.4" y1="182.6" x2="104.4" y2="295.3" stroke="#f0f0f0" stroke-width="0.6"/>
<line x1="121.2" y1="182.6" x2="121.2" y2="295.3" stroke="#f0f0f0" stroke-width="0.6"/>
<line x1="138" y1="182.6" x2="138" y2="295.3" stroke="#f0f0f0" stroke-width="0.6"/>
<line x1="154.8" y1="182.6" x2="154.8" y2="295.3" stroke="#f0f0f0" stroke-width="0.6"/>
<line x1="171.6" y1="182.6" x2="171.6" y2="295.3" stroke="#f0f0f0" stroke-width="0.6"/>
<line x1="188.4" y1="182.6" x2="188.4" y2="295.3" stroke="#f0f0f0" stroke-width="0.6"/>
<line x1="205.2" y1="182.6" x2="205.2" y2="295.3" stroke="#f0f0f0" stroke-width="0.6"/>
<line x1="222" y1="182.6" x2="222" y2="295.3" stroke="#f0f0f0" stroke-width="0.6"/>
<line x1="19.4" y1="183" x2="231" y2="183" stroke="#f0f0f0" stroke-width="0.6"/>
<line x1="19.4" y1="201.7" x2="231" y2="201.7" stroke="#f0f0f0" stroke-width="0.6"/>
<line x1="19.4" y1="220.4" x2="231" y2="220.4" stroke="#f0f0f0" stroke-width="0.6"/>
<line x1="19.4" y1="239.1" x2="231" y2="239.1" stroke="#f0f0f0" stroke-width="0.6"/>
<line x1="19.4" y1="257.8" x2="231" y2="257.8" stroke="#f0f0f0" stroke-width="0.6"/>
<line x1="19.4" y1="276.5" x2="231" y2="276.5" stroke="#f0f0f0" stroke-width="0.6"/>
<line x1="19.4" y1="295.2" x2="231" y2="295.2" stroke="#f0f0f0" stroke-width="0.6"/>
<rect x="25.8" y="217.2" width="6" height="16.9" fill="#EDB120"/>
<rect x="25.8" y="234.1" width="6" height="5" fill="#00FFFF"/>
<rect x="25.8" y="239.1" width="6" height="20.1" fill="#77AC30"/>
<rect x="25.8" y="259.2" width="6" height="1.8" fill="#A2142F"/>
<rect x="25.8" y="217.2" width="6" height="43.8" fill="none" stroke="#333" stroke-opacity="0.35" stroke-width="0.4"/>
<rect x="34.2" y="216.8" width="6" height="1.3" fill="#7E2F8E"/>
<rect x="34.2" y="218.1" width="6" height="13.9" fill="#EDB120"/>
<rect x="34.2" y="232" width="6" height="7.1" fill="#00FFFF"/>
<rect x="34.2" y="239.1" width="6" height="18.7" fill="#77AC30"/>
<rect x="34.2" y="257.8" width="6" height="2.1" fill="#4DBEEE"/>
<rect x="34.2" y="259.9" width="6" height="1.6" fill="#A2142F"/>
<rect x="34.2" y="216.8" width="6" height="44.7" fill="none" stroke="#333" stroke-opacity="0.35" stroke-width="0.4"/>
<rect x="42.6" y="215" width="6" height="16.8" fill="#EDB120"/>
<rect x="42.6" y="231.8" width="6" height="7.3" fill="#00FFFF"/>
<rect x="42.6" y="239.1" width="6" height="17.9" fill="#77AC30"/>
<rect x="42.6" y="257" width="6" height="4.8" fill="#4DBEEE"/>
<rect x="42.6" y="261.8" width="6" height="1.4" fill="#A2142F"/>
<rect x="42.6" y="215" width="6" height="48.2" fill="none" stroke="#333" stroke-opacity="0.35" stroke-width="0.4"/>
<rect x="51" y="216.1" width="6" height="15.4" fill="#EDB120"/>
<rect x="51" y="231.5" width="6" height="7.6" fill="#00FFFF"/>
<rect x="51" y="239.1" width="6" height="16.7" fill="#77AC30"/>
<rect x="51" y="255.8" width="6" height="4.9" fill="#4DBEEE"/>
<rect x="51" y="260.7" width="6" height="1.3" fill="#A2142F"/>
<rect x="51" y="216.1" width="6" height="45.9" fill="none" stroke="#333" stroke-opacity="0.35" stroke-width="0.4"/>
<rect x="59.4" y="213.2" width="6" height="18.3" fill="#EDB120"/>
<rect x="59.4" y="231.5" width="6" height="7.6" fill="#00FFFF"/>
<rect x="59.4" y="239.1" width="6" height="19.1" fill="#77AC30"/>
<rect x="59.4" y="258.2" width="6" height="4.5" fill="#4DBEEE"/>
<rect x="59.4" y="262.7" width="6" height="1.9" fill="#A2142F"/>
<rect x="59.4" y="213.2" width="6" height="51.4" fill="none" stroke="#333" stroke-opacity="0.35" stroke-width="0.4"/>
<rect x="67.8" y="212.8" width="6" height="18.7" fill="#EDB120"/>
<rect x="67.8" y="231.5" width="6" height="7.6" fill="#00FFFF"/>
<rect x="67.8" y="239.1" width="6" height="24.1" fill="#77AC30"/>
<rect x="67.8" y="263.2" width="6" height="2" fill="#A2142F"/>
<rect x="67.8" y="212.8" width="6" height="52.4" fill="none" stroke="#333" stroke-opacity="0.35" stroke-width="0.4"/>
<rect x="76.2" y="204.4" width="6" height="27" fill="#EDB120"/>
<rect x="76.2" y="231.4" width="6" height="7.7" fill="#00FFFF"/>
<rect x="76.2" y="239.1" width="6" height="31.9" fill="#77AC30"/>
<rect x="76.2" y="271" width="6" height="2.3" fill="#A2142F"/>
<rect x="76.2" y="204.4" width="6" height="68.9" fill="none" stroke="#333" stroke-opacity="0.35" stroke-width="0.4"/>
<rect x="84.6" y="196.2" width="6" height="1.4" fill="#A2142F"/>
<rect x="84.6" y="197.6" width="6" height="33.3" fill="#EDB120"/>
<rect x="84.6" y="230.9" width="6" height="0.9" fill="#D95319"/>
<rect x="84.6" y="231.8" width="6" height="7.3" fill="#00FFFF"/>
<rect x="84.6" y="239.1" width="6" height="42.4" fill="#77AC30"/>
<rect x="84.6" y="196.2" width="6" height="85.3" fill="none" stroke="#333" stroke-opacity="0.35" stroke-width="0.4"/>
<rect x="93" y="190.1" width="6" height="3.8" fill="#A2142F"/>
<rect x="93" y="193.9" width="6" height="4.9" fill="#4DBEEE"/>
<rect x="93" y="198.8" width="6" height="10.3" fill="#7E2F8E"/>
<rect x="93" y="209.1" width="6" height="22.3" fill="#EDB120"/>
<rect x="93" y="231.4" width="6" height="2.2" fill="#D95319"/>
<rect x="93" y="233.6" width="6" height="5.5" fill="#00FFFF"/>
<rect x="93" y="239.1" width="6" height="48.6" fill="#77AC30"/>
<rect x="93" y="190.1" width="6" height="97.6" fill="none" stroke="#333" stroke-opacity="0.35" stroke-width="0.4"/>
<rect x="101.4" y="184.9" width="6" height="4.6" fill="#A2142F"/>
<rect x="101.4" y="189.5" width="6" height="4.4" fill="#4DBEEE"/>
<rect x="101.4" y="193.9" width="6" height="14.2" fill="#7E2F8E"/>
<rect x="101.4" y="208.1" width="6" height="23.3" fill="#EDB120"/>
<rect x="101.4" y="231.4" width="6" height="3.1" fill="#D95319"/>
<rect x="101.4" y="234.5" width="6" height="4.6" fill="#00FFFF"/>
<rect x="101.4" y="239.1" width="6" height="53.7" fill="#77AC30"/>
<rect x="101.4" y="184.9" width="6" height="107.9" fill="none" stroke="#333" stroke-opacity="0.35" stroke-width="0.4"/>
<rect x="109.8" y="184.9" width="6" height="4.1" fill="#A2142F"/>
<rect x="109.8" y="189" width="6" height="6.1" fill="#7E2F8E"/>
<rect x="109.8" y="195.1" width="6" height="37.1" fill="#EDB120"/>
<rect x="109.8" y="232.2" width="6" height="4.6" fill="#D95319"/>
<rect x="109.8" y="236.8" width="6" height="2.3" fill="#00FFFF"/>
<rect x="109.8" y="239.1" width="6" height="53.7" fill="#77AC30"/>
<rect x="109.8" y="184.9" width="6" height="107.9" fill="none" stroke="#333" stroke-opacity="0.35" stroke-width="0.4"/>
<rect x="118.2" y="187.9" width="6" height="7.3" fill="#7E2F8E"/>
<rect x="118.2" y="195.2" width="6" height="37.5" fill="#EDB120"/>
<rect x="118.2" y="232.7" width="6" height="4.9" fill="#D95319"/>
<rect x="118.2" y="237.6" width="6" height="1.5" fill="#00FFFF"/>
<rect x="118.2" y="239.1" width="6" height="49.6" fill="#77AC30"/>
<rect x="118.2" y="288.7" width="6" height="2.3" fill="#4DBEEE"/>
<rect x="118.2" y="187.9" width="6" height="103.1" fill="none" stroke="#333" stroke-opacity="0.35" stroke-width="0.4"/>
<rect x="126.6" y="184.9" width="6" height="1" fill="#0072BD"/>
<rect x="126.6" y="185.9" width="6" height="7.1" fill="#7E2F8E"/>
<rect x="126.6" y="193" width="6" height="37" fill="#EDB120"/>
<rect x="126.6" y="230" width="6" height="5" fill="#D95319"/>
<rect x="126.6" y="235" width="6" height="4.1" fill="#00FFFF"/>
<rect x="126.6" y="239.1" width="6" height="53.7" fill="#77AC30"/>
<rect x="126.6" y="184.9" width="6" height="107.9" fill="none" stroke="#333" stroke-opacity="0.35" stroke-width="0.4"/>
<rect x="135" y="184.9" width="6" height="8.1" fill="#7E2F8E"/>
<rect x="135" y="193" width="6" height="37" fill="#EDB120"/>
<rect x="135" y="230" width="6" height="4.5" fill="#D95319"/>
<rect x="135" y="234.5" width="6" height="4.6" fill="#00FFFF"/>
<rect x="135" y="239.1" width="6" height="53.7" fill="#77AC30"/>
<rect x="135" y="184.9" width="6" height="107.9" fill="none" stroke="#333" stroke-opacity="0.35" stroke-width="0.4"/>
<rect x="143.4" y="184.9" width="6" height="7.7" fill="#7E2F8E"/>
<rect x="143.4" y="192.6" width="6" height="37.4" fill="#EDB120"/>
<rect x="143.4" y="230" width="6" height="4" fill="#D95319"/>
<rect x="143.4" y="234" width="6" height="5.1" fill="#00FFFF"/>
<rect x="143.4" y="239.1" width="6" height="51.9" fill="#77AC30"/>
<rect x="143.4" y="291" width="6" height="1.8" fill="#4DBEEE"/>
<rect x="143.4" y="184.9" width="6" height="107.9" fill="none" stroke="#333" stroke-opacity="0.35" stroke-width="0.4"/>
<rect x="151.8" y="189" width="6" height="5" fill="#7E2F8E"/>
<rect x="151.8" y="194" width="6" height="37.3" fill="#EDB120"/>
<rect x="151.8" y="231.3" width="6" height="4.1" fill="#D95319"/>
<rect x="151.8" y="235.4" width="6" height="3.7" fill="#00FFFF"/>
<rect x="151.8" y="239.1" width="6" height="49.6" fill="#77AC30"/>
<rect x="151.8" y="288.7" width="6" height="0.7" fill="#4DBEEE"/>
<rect x="151.8" y="189" width="6" height="100.4" fill="none" stroke="#333" stroke-opacity="0.35" stroke-width="0.4"/>
<rect x="160.2" y="197.2" width="6" height="3.6" fill="#A2142F"/>
<rect x="160.2" y="200.8" width="6" height="4.9" fill="#7E2F8E"/>
<rect x="160.2" y="205.7" width="6" height="27" fill="#EDB120"/>
<rect x="160.2" y="232.7" width="6" height="3.6" fill="#D95319"/>
<rect x="160.2" y="236.3" width="6" height="2.8" fill="#00FFFF"/>
<rect x="160.2" y="239.1" width="6" height="41.8" fill="#77AC30"/>
<rect x="160.2" y="197.2" width="6" height="83.7" fill="none" stroke="#333" stroke-opacity="0.35" stroke-width="0.4"/>
<rect x="168.6" y="204" width="6" height="2.6" fill="#A2142F"/>
<rect x="168.6" y="206.6" width="6" height="4.9" fill="#4DBEEE"/>
<rect x="168.6" y="211.5" width="6" height="15.3" fill="#7E2F8E"/>
<rect x="168.6" y="226.8" width="6" height="6.4" fill="#EDB120"/>
<rect x="168.6" y="233.2" width="6" height="2.2" fill="#D95319"/>
<rect x="168.6" y="235.4" width="6" height="3.7" fill="#00FFFF"/>
<rect x="168.6" y="239.1" width="6" height="34.8" fill="#77AC30"/>
<rect x="168.6" y="204" width="6" height="69.9" fill="none" stroke="#333" stroke-opacity="0.35" stroke-width="0.4"/>
<rect x="177" y="207.2" width="6" height="2.3" fill="#A2142F"/>
<rect x="177" y="209.5" width="6" height="5.5" fill="#4DBEEE"/>
<rect x="177" y="215" width="6" height="12.9" fill="#7E2F8E"/>
<rect x="177" y="227.9" width="6" height="6.4" fill="#EDB120"/>
<rect x="177" y="234.3" width="6" height="0.5" fill="#D95319"/>
<rect x="177" y="234.8" width="6" height="4.3" fill="#00FFFF"/>
<rect x="177" y="239.1" width="6" height="32" fill="#77AC30"/>
<rect x="177" y="207.2" width="6" height="63.9" fill="none" stroke="#333" stroke-opacity="0.35" stroke-width="0.4"/>
<rect x="185.4" y="207.3" width="6" height="1.5" fill="#7E2F8E"/>
<rect x="185.4" y="208.8" width="6" height="27.4" fill="#EDB120"/>
<rect x="185.4" y="236.2" width="6" height="2.9" fill="#00FFFF"/>
<rect x="185.4" y="239.1" width="6" height="29.1" fill="#77AC30"/>
<rect x="185.4" y="268.2" width="6" height="2.5" fill="#A2142F"/>
<rect x="185.4" y="207.3" width="6" height="63.4" fill="none" stroke="#333" stroke-opacity="0.35" stroke-width="0.4"/>
<rect x="193.8" y="210.1" width="6" height="25" fill="#EDB120"/>
<rect x="193.8" y="235.1" width="6" height="4" fill="#00FFFF"/>
<rect x="193.8" y="239.1" width="6" height="26.7" fill="#77AC30"/>
<rect x="193.8" y="265.8" width="6" height="1.9" fill="#A2142F"/>
<rect x="193.8" y="210.1" width="6" height="57.6" fill="none" stroke="#333" stroke-opacity="0.35" stroke-width="0.4"/>
<rect x="202.2" y="212.8" width="6" height="22" fill="#EDB120"/>
<rect x="202.2" y="234.8" width="6" height="4.3" fill="#00FFFF"/>
<rect x="202.2" y="239.1" width="6" height="24.4" fill="#77AC30"/>
<rect x="202.2" y="263.5" width="6" height="1.9" fill="#A2142F"/>
<rect x="202.2" y="212.8" width="6" height="52.6" fill="none" stroke="#333" stroke-opacity="0.35" stroke-width="0.4"/>
<rect x="210.6" y="214.3" width="6" height="20.8" fill="#EDB120"/>
<rect x="210.6" y="235.1" width="6" height="4" fill="#00FFFF"/>
<rect x="210.6" y="239.1" width="6" height="22.9" fill="#77AC30"/>
<rect x="210.6" y="262" width="6" height="1.9" fill="#A2142F"/>
<rect x="210.6" y="214.3" width="6" height="49.6" fill="none" stroke="#333" stroke-opacity="0.35" stroke-width="0.4"/>
<rect x="219" y="215.8" width="6" height="19.5" fill="#EDB120"/>
<rect x="219" y="235.3" width="6" height="3.8" fill="#00FFFF"/>
<rect x="219" y="239.1" width="6" height="21.5" fill="#77AC30"/>
<rect x="219" y="260.6" width="6" height="1.9" fill="#A2142F"/>
<rect x="219" y="215.8" width="6" height="46.7" fill="none" stroke="#333" stroke-opacity="0.35" stroke-width="0.4"/>
<line x1="19.4" y1="239.1" x2="231" y2="239.1" stroke="#9a9a9a" stroke-width="0.5"/>
<path d="M28.8,187.75 L37.2,187.75 L37.2,191.3 L45.6,191.3 L45.6,187.6 L54,187.6 L54,187.6 L62.4,187.6 L62.4,187.6 L70.8,187.6 L70.8,187.6 L79.2,187.6 L79.2,187.6 L87.6,187.6 L87.6,187.6 L96,187.6 L96,187.6 L104.4,187.6 L104.4,187.6 L112.8,187.6 L112.8,187.6 L121.2,187.6 L121.2,187.6 L129.6,187.6 L129.6,187.6 L138,187.6 L138,187.6 L146.4,187.6 L146.4,187.6 L154.8,187.6 L154.8,187.6 L163.2,187.6 L163.2,187.6 L171.6,187.6 L171.6,187.6 L180,187.6 L180,187.6 L188.4,187.6 L188.4,187.6 L196.8,187.6 L196.8,187.6 L205.2,187.6 L205.2,187.6 L213.6,187.6 L213.6,187.6 L222,187.6 L222,187.6" fill="none" stroke="#E8703F" stroke-width="1.3" stroke-linejoin="miter"/>
<line x1="19.4" y1="182.6" x2="231" y2="182.6" stroke="#8a8a8a" stroke-width="0.8"/>
<line x1="19.4" y1="295.3" x2="231" y2="295.3" stroke="#8a8a8a" stroke-width="0.8"/>
<line x1="19.4" y1="182.6" x2="19.4" y2="295.3" stroke="#8a8a8a" stroke-width="0.8"/>
<line x1="231" y1="182.6" x2="231" y2="295.3" stroke="#D95319" stroke-opacity="0.75" stroke-width="0.8"/>
<line x1="37.2" y1="295.3" x2="37.2" y2="293.3" stroke="#8a8a8a" stroke-width="0.8"/>
<line x1="37.2" y1="182.6" x2="37.2" y2="184.6" stroke="#8a8a8a" stroke-width="0.8"/>
<line x1="54" y1="295.3" x2="54" y2="293.3" stroke="#8a8a8a" stroke-width="0.8"/>
<line x1="54" y1="182.6" x2="54" y2="184.6" stroke="#8a8a8a" stroke-width="0.8"/>
<line x1="70.8" y1="295.3" x2="70.8" y2="293.3" stroke="#8a8a8a" stroke-width="0.8"/>
<line x1="70.8" y1="182.6" x2="70.8" y2="184.6" stroke="#8a8a8a" stroke-width="0.8"/>
<line x1="87.6" y1="295.3" x2="87.6" y2="293.3" stroke="#8a8a8a" stroke-width="0.8"/>
<line x1="87.6" y1="182.6" x2="87.6" y2="184.6" stroke="#8a8a8a" stroke-width="0.8"/>
<line x1="104.4" y1="295.3" x2="104.4" y2="293.3" stroke="#8a8a8a" stroke-width="0.8"/>
<line x1="104.4" y1="182.6" x2="104.4" y2="184.6" stroke="#8a8a8a" stroke-width="0.8"/>
<line x1="121.2" y1="295.3" x2="121.2" y2="293.3" stroke="#8a8a8a" stroke-width="0.8"/>
<line x1="121.2" y1="182.6" x2="121.2" y2="184.6" stroke="#8a8a8a" stroke-width="0.8"/>
<line x1="138" y1="295.3" x2="138" y2="293.3" stroke="#8a8a8a" stroke-width="0.8"/>
<line x1="138" y1="182.6" x2="138" y2="184.6" stroke="#8a8a8a" stroke-width="0.8"/>
<line x1="154.8" y1="295.3" x2="154.8" y2="293.3" stroke="#8a8a8a" stroke-width="0.8"/>
<line x1="154.8" y1="182.6" x2="154.8" y2="184.6" stroke="#8a8a8a" stroke-width="0.8"/>
<line x1="171.6" y1="295.3" x2="171.6" y2="293.3" stroke="#8a8a8a" stroke-width="0.8"/>
<line x1="171.6" y1="182.6" x2="171.6" y2="184.6" stroke="#8a8a8a" stroke-width="0.8"/>
<line x1="188.4" y1="295.3" x2="188.4" y2="293.3" stroke="#8a8a8a" stroke-width="0.8"/>
<line x1="188.4" y1="182.6" x2="188.4" y2="184.6" stroke="#8a8a8a" stroke-width="0.8"/>
<line x1="205.2" y1="295.3" x2="205.2" y2="293.3" stroke="#8a8a8a" stroke-width="0.8"/>
<line x1="205.2" y1="182.6" x2="205.2" y2="184.6" stroke="#8a8a8a" stroke-width="0.8"/>
<line x1="222" y1="295.3" x2="222" y2="293.3" stroke="#8a8a8a" stroke-width="0.8"/>
<line x1="222" y1="182.6" x2="222" y2="184.6" stroke="#8a8a8a" stroke-width="0.8"/>
<line x1="19.4" y1="183" x2="21.4" y2="183" stroke="#8a8a8a" stroke-width="0.8"/>
<line x1="19.4" y1="201.7" x2="21.4" y2="201.7" stroke="#8a8a8a" stroke-width="0.8"/>
<line x1="19.4" y1="220.4" x2="21.4" y2="220.4" stroke="#8a8a8a" stroke-width="0.8"/>
<line x1="19.4" y1="239.1" x2="21.4" y2="239.1" stroke="#8a8a8a" stroke-width="0.8"/>
<line x1="19.4" y1="257.8" x2="21.4" y2="257.8" stroke="#8a8a8a" stroke-width="0.8"/>
<line x1="19.4" y1="276.5" x2="21.4" y2="276.5" stroke="#8a8a8a" stroke-width="0.8"/>
<line x1="19.4" y1="295.2" x2="21.4" y2="295.2" stroke="#8a8a8a" stroke-width="0.8"/>
<line x1="231" y1="187.85" x2="229" y2="187.85" stroke="#D95319" stroke-width="0.8"/>
<line x1="231" y1="213.58" x2="229" y2="213.58" stroke="#D95319" stroke-width="0.8"/>
<line x1="231" y1="239.3" x2="229" y2="239.3" stroke="#D95319" stroke-width="0.8"/>
<line x1="231" y1="265.03" x2="229" y2="265.03" stroke="#D95319" stroke-width="0.8"/>
<line x1="231" y1="290.75" x2="229" y2="290.75" stroke="#D95319" stroke-width="0.8"/>
<line x1="330.08" y1="182.6" x2="330.08" y2="295.4" stroke="#f0f0f0" stroke-width="0.6"/>
<line x1="346.86" y1="182.6" x2="346.86" y2="295.4" stroke="#f0f0f0" stroke-width="0.6"/>
<line x1="363.64" y1="182.6" x2="363.64" y2="295.4" stroke="#f0f0f0" stroke-width="0.6"/>
<line x1="380.42" y1="182.6" x2="380.42" y2="295.4" stroke="#f0f0f0" stroke-width="0.6"/>
<line x1="397.2" y1="182.6" x2="397.2" y2="295.4" stroke="#f0f0f0" stroke-width="0.6"/>
<line x1="413.98" y1="182.6" x2="413.98" y2="295.4" stroke="#f0f0f0" stroke-width="0.6"/>
<line x1="430.76" y1="182.6" x2="430.76" y2="295.4" stroke="#f0f0f0" stroke-width="0.6"/>
<line x1="447.54" y1="182.6" x2="447.54" y2="295.4" stroke="#f0f0f0" stroke-width="0.6"/>
<line x1="464.32" y1="182.6" x2="464.32" y2="295.4" stroke="#f0f0f0" stroke-width="0.6"/>
<line x1="481.1" y1="182.6" x2="481.1" y2="295.4" stroke="#f0f0f0" stroke-width="0.6"/>
<line x1="497.88" y1="182.6" x2="497.88" y2="295.4" stroke="#f0f0f0" stroke-width="0.6"/>
<line x1="514.66" y1="182.6" x2="514.66" y2="295.4" stroke="#f0f0f0" stroke-width="0.6"/>
<line x1="311.7" y1="295.4" x2="524.3" y2="295.4" stroke="#f0f0f0" stroke-width="0.6"/>
<line x1="311.7" y1="276.7" x2="524.3" y2="276.7" stroke="#f0f0f0" stroke-width="0.6"/>
<line x1="311.7" y1="258" x2="524.3" y2="258" stroke="#f0f0f0" stroke-width="0.6"/>
<line x1="311.7" y1="239.3" x2="524.3" y2="239.3" stroke="#f0f0f0" stroke-width="0.6"/>
<line x1="311.7" y1="220.6" x2="524.3" y2="220.6" stroke="#f0f0f0" stroke-width="0.6"/>
<line x1="311.7" y1="201.9" x2="524.3" y2="201.9" stroke="#f0f0f0" stroke-width="0.6"/>
<line x1="311.7" y1="183.2" x2="524.3" y2="183.2" stroke="#f0f0f0" stroke-width="0.6"/>
<rect x="318.19" y="258.56" width="7" height="36.84" fill="#98c2b3" stroke="#4f7266" stroke-opacity="0.7" stroke-width="0.5"/>
<rect x="326.58" y="279.13" width="7" height="16.27" fill="#98c2b3" stroke="#4f7266" stroke-opacity="0.7" stroke-width="0.5"/>
<rect x="334.97" y="282.31" width="7" height="13.09" fill="#98c2b3" stroke="#4f7266" stroke-opacity="0.7" stroke-width="0.5"/>
<rect x="343.36" y="290.16" width="7" height="5.24" fill="#98c2b3" stroke="#4f7266" stroke-opacity="0.7" stroke-width="0.5"/>
<rect x="351.75" y="292.59" width="7" height="2.81" fill="#98c2b3" stroke="#4f7266" stroke-opacity="0.7" stroke-width="0.5"/>
<rect x="360.14" y="293.72" width="7" height="1.68" fill="#98c2b3" stroke="#4f7266" stroke-opacity="0.7" stroke-width="0.5"/>
<rect x="368.53" y="267.35" width="7" height="28.05" fill="#98c2b3" stroke="#4f7266" stroke-opacity="0.7" stroke-width="0.5"/>
<rect x="376.92" y="250.52" width="7" height="44.88" fill="#98c2b3" stroke="#4f7266" stroke-opacity="0.7" stroke-width="0.5"/>
<rect x="385.31" y="264.73" width="7" height="30.67" fill="#98c2b3" stroke="#4f7266" stroke-opacity="0.7" stroke-width="0.5"/>
<rect x="393.7" y="256.69" width="7" height="38.71" fill="#98c2b3" stroke="#4f7266" stroke-opacity="0.7" stroke-width="0.5"/>
<rect x="402.09" y="211.06" width="7" height="84.34" fill="#98c2b3" stroke="#4f7266" stroke-opacity="0.7" stroke-width="0.5"/>
<rect x="410.48" y="196.29" width="7" height="99.11" fill="#98c2b3" stroke="#4f7266" stroke-opacity="0.7" stroke-width="0.5"/>
<rect x="418.87" y="191.43" width="7" height="103.97" fill="#98c2b3" stroke="#4f7266" stroke-opacity="0.7" stroke-width="0.5"/>
<rect x="427.26" y="191.43" width="7" height="103.97" fill="#98c2b3" stroke="#4f7266" stroke-opacity="0.7" stroke-width="0.5"/>
<rect x="435.65" y="188.62" width="7" height="106.78" fill="#98c2b3" stroke="#4f7266" stroke-opacity="0.7" stroke-width="0.5"/>
<rect x="444.04" y="189.93" width="7" height="105.47" fill="#98c2b3" stroke="#4f7266" stroke-opacity="0.7" stroke-width="0.5"/>
<rect x="452.43" y="215.18" width="7" height="80.22" fill="#98c2b3" stroke="#4f7266" stroke-opacity="0.7" stroke-width="0.5"/>
<rect x="460.82" y="256.69" width="7" height="38.71" fill="#98c2b3" stroke="#4f7266" stroke-opacity="0.7" stroke-width="0.5"/>
<rect x="469.21" y="255.38" width="7" height="40.02" fill="#98c2b3" stroke="#4f7266" stroke-opacity="0.7" stroke-width="0.5"/>
<rect x="477.6" y="194.98" width="7" height="100.42" fill="#98c2b3" stroke="#4f7266" stroke-opacity="0.7" stroke-width="0.5"/>
<rect x="485.99" y="202.46" width="7" height="92.94" fill="#98c2b3" stroke="#4f7266" stroke-opacity="0.7" stroke-width="0.5"/>
<rect x="494.38" y="212.18" width="7" height="83.22" fill="#98c2b3" stroke="#4f7266" stroke-opacity="0.7" stroke-width="0.5"/>
<rect x="502.77" y="225.46" width="7" height="69.94" fill="#98c2b3" stroke="#4f7266" stroke-opacity="0.7" stroke-width="0.5"/>
<rect x="511.16" y="237.24" width="7" height="58.16" fill="#98c2b3" stroke="#4f7266" stroke-opacity="0.7" stroke-width="0.5"/>
<path d="M321.69,248.38 L330.08,248.38 L330.08,249.26 L338.47,249.26 L338.47,249.89 L346.86,249.89 L346.86,249.89 L355.25,249.89 L355.25,249.51 L363.64,249.51 L363.64,247.25 L372.03,247.25 L372.03,243.24 L380.42,243.24 L380.42,220.28 L388.81,220.28 L388.81,211.75 L397.2,211.75 L397.2,211.75 L405.59,211.75 L405.59,212.76 L413.98,212.76 L413.98,233.33 L422.37,233.33 L422.37,239.1 L430.76,239.1 L430.76,237.22 L439.15,237.22 L439.15,238.1 L447.54,238.1 L447.54,239.1 L455.93,239.1 L455.93,215.26 L464.32,215.26 L464.32,199.58 L472.71,199.58 L472.71,197.95 L481.1,197.95 L481.1,228.56 L489.49,228.56 L489.49,241.36 L497.88,241.36 L497.88,244.37 L506.27,244.37 L506.27,245.62 L514.66,245.62 L514.66,246.25" fill="none" stroke="#DF5C26" stroke-width="1.45" stroke-linejoin="miter"/>
<rect x="319.3" y="189.3" width="60.6" height="15.2" fill="#fff" stroke="#c8c8c8" stroke-width="0.7"/>
<rect x="320.6" y="190.8" width="13.4" height="5.1" fill="#9cc5b6" stroke="#5e7f72" stroke-opacity="0.5" stroke-width="0.4"/>
<line x1="320.6" y1="199.7" x2="334" y2="199.7" stroke="#E8703F" stroke-width="1.4"/>
<line x1="311.7" y1="182.6" x2="524.3" y2="182.6" stroke="#8a8a8a" stroke-width="0.8"/>
<line x1="311.7" y1="295.4" x2="524.3" y2="295.4" stroke="#8a8a8a" stroke-width="0.8"/>
<line x1="311.7" y1="182.6" x2="311.7" y2="295.4" stroke="#8a8a8a" stroke-width="0.8"/>
<line x1="524.3" y1="182.6" x2="524.3" y2="295.4" stroke="#D95319" stroke-opacity="0.75" stroke-width="0.8"/>
<line x1="330.08" y1="295.4" x2="330.08" y2="293.4" stroke="#8a8a8a" stroke-width="0.8"/>
<line x1="330.08" y1="182.6" x2="330.08" y2="184.6" stroke="#8a8a8a" stroke-width="0.8"/>
<line x1="346.86" y1="295.4" x2="346.86" y2="293.4" stroke="#8a8a8a" stroke-width="0.8"/>
<line x1="346.86" y1="182.6" x2="346.86" y2="184.6" stroke="#8a8a8a" stroke-width="0.8"/>
<line x1="363.64" y1="295.4" x2="363.64" y2="293.4" stroke="#8a8a8a" stroke-width="0.8"/>
<line x1="363.64" y1="182.6" x2="363.64" y2="184.6" stroke="#8a8a8a" stroke-width="0.8"/>
<line x1="380.42" y1="295.4" x2="380.42" y2="293.4" stroke="#8a8a8a" stroke-width="0.8"/>
<line x1="380.42" y1="182.6" x2="380.42" y2="184.6" stroke="#8a8a8a" stroke-width="0.8"/>
<line x1="397.2" y1="295.4" x2="397.2" y2="293.4" stroke="#8a8a8a" stroke-width="0.8"/>
<line x1="397.2" y1="182.6" x2="397.2" y2="184.6" stroke="#8a8a8a" stroke-width="0.8"/>
<line x1="413.98" y1="295.4" x2="413.98" y2="293.4" stroke="#8a8a8a" stroke-width="0.8"/>
<line x1="413.98" y1="182.6" x2="413.98" y2="184.6" stroke="#8a8a8a" stroke-width="0.8"/>
<line x1="430.76" y1="295.4" x2="430.76" y2="293.4" stroke="#8a8a8a" stroke-width="0.8"/>
<line x1="430.76" y1="182.6" x2="430.76" y2="184.6" stroke="#8a8a8a" stroke-width="0.8"/>
<line x1="447.54" y1="295.4" x2="447.54" y2="293.4" stroke="#8a8a8a" stroke-width="0.8"/>
<line x1="447.54" y1="182.6" x2="447.54" y2="184.6" stroke="#8a8a8a" stroke-width="0.8"/>
<line x1="464.32" y1="295.4" x2="464.32" y2="293.4" stroke="#8a8a8a" stroke-width="0.8"/>
<line x1="464.32" y1="182.6" x2="464.32" y2="184.6" stroke="#8a8a8a" stroke-width="0.8"/>
<line x1="481.1" y1="295.4" x2="481.1" y2="293.4" stroke="#8a8a8a" stroke-width="0.8"/>
<line x1="481.1" y1="182.6" x2="481.1" y2="184.6" stroke="#8a8a8a" stroke-width="0.8"/>
<line x1="497.88" y1="295.4" x2="497.88" y2="293.4" stroke="#8a8a8a" stroke-width="0.8"/>
<line x1="497.88" y1="182.6" x2="497.88" y2="184.6" stroke="#8a8a8a" stroke-width="0.8"/>
<line x1="514.66" y1="295.4" x2="514.66" y2="293.4" stroke="#8a8a8a" stroke-width="0.8"/>
<line x1="514.66" y1="182.6" x2="514.66" y2="184.6" stroke="#8a8a8a" stroke-width="0.8"/>
<line x1="311.7" y1="295.4" x2="313.7" y2="295.4" stroke="#8a8a8a" stroke-width="0.8"/>
<line x1="311.7" y1="276.7" x2="313.7" y2="276.7" stroke="#8a8a8a" stroke-width="0.8"/>
<line x1="311.7" y1="258" x2="313.7" y2="258" stroke="#8a8a8a" stroke-width="0.8"/>
<line x1="311.7" y1="239.3" x2="313.7" y2="239.3" stroke="#8a8a8a" stroke-width="0.8"/>
<line x1="311.7" y1="220.6" x2="313.7" y2="220.6" stroke="#8a8a8a" stroke-width="0.8"/>
<line x1="311.7" y1="201.9" x2="313.7" y2="201.9" stroke="#8a8a8a" stroke-width="0.8"/>
<line x1="311.7" y1="183.2" x2="313.7" y2="183.2" stroke="#8a8a8a" stroke-width="0.8"/>
<line x1="524.3" y1="295.4" x2="522.3" y2="295.4" stroke="#D95319" stroke-width="0.8"/>
<line x1="524.3" y1="282.86" x2="522.3" y2="282.86" stroke="#D95319" stroke-width="0.8"/>
<line x1="524.3" y1="270.31" x2="522.3" y2="270.31" stroke="#D95319" stroke-width="0.8"/>
<line x1="524.3" y1="257.77" x2="522.3" y2="257.77" stroke="#D95319" stroke-width="0.8"/>
<line x1="524.3" y1="245.22" x2="522.3" y2="245.22" stroke="#D95319" stroke-width="0.8"/>
<line x1="524.3" y1="232.68" x2="522.3" y2="232.68" stroke="#D95319" stroke-width="0.8"/>
<line x1="524.3" y1="220.13" x2="522.3" y2="220.13" stroke="#D95319" stroke-width="0.8"/>
<line x1="524.3" y1="207.59" x2="522.3" y2="207.59" stroke="#D95319" stroke-width="0.8"/>
<line x1="524.3" y1="195.04" x2="522.3" y2="195.04" stroke="#D95319" stroke-width="0.8"/>
<line x1="524.3" y1="182.5" x2="522.3" y2="182.5" stroke="#D95319" stroke-width="0.8"/>
<g class="txt">
<text x="132.2" y="12.6" class="lg">WT</text>
<text x="163" y="12.6" class="lg">PV</text>
<text x="191.5" y="12.6" class="lg">Grid</text>
<text x="224" y="12.6" class="lg">CHP</text>
<text x="258.2" y="12.6" class="lg">Demand</text>
<text x="304.4" y="12.6" class="lg">Battery</text>
<text x="346.5" y="12.6" class="lg">DR</text>
<text x="376.2" y="12.6" class="lg">ENS</text>
<text x="409" y="12.6" class="lg">Price</text>
<text x="37.2" y="146.2" text-anchor="middle" class="tk">2</text>
<text x="54" y="146.2" text-anchor="middle" class="tk">4</text>
<text x="70.8" y="146.2" text-anchor="middle" class="tk">6</text>
<text x="87.6" y="146.2" text-anchor="middle" class="tk">8</text>
<text x="104.4" y="146.2" text-anchor="middle" class="tk">10</text>
<text x="121.2" y="146.2" text-anchor="middle" class="tk">12</text>
<text x="138" y="146.2" text-anchor="middle" class="tk">14</text>
<text x="154.8" y="146.2" text-anchor="middle" class="tk">16</text>
<text x="171.6" y="146.2" text-anchor="middle" class="tk">18</text>
<text x="188.4" y="146.2" text-anchor="middle" class="tk">20</text>
<text x="205.2" y="146.2" text-anchor="middle" class="tk">22</text>
<text x="222" y="146.2" text-anchor="middle" class="tk">24</text>
<text x="17.1" y="28.35" text-anchor="end" class="tk">3</text>
<text x="17.1" y="47" text-anchor="end" class="tk">2</text>
<text x="17.1" y="65.65" text-anchor="end" class="tk">1</text>
<text x="17.1" y="84.3" text-anchor="end" class="tk">0</text>
<text x="17.1" y="102.95" text-anchor="end" class="tk">-1</text>
<text x="17.1" y="121.6" text-anchor="end" class="tk">-2</text>
<text x="17.1" y="140.25" text-anchor="end" class="tk">-3</text>
<text x="233.2" y="33" class="tk or">100</text>
<text x="233.2" y="58.73" class="tk or">50</text>
<text x="233.2" y="84.45" class="tk or">0</text>
<text x="233.2" y="110.17" class="tk or">-50</text>
<text x="233.2" y="135.9" class="tk or">-100</text>
<text x="125.2" y="23.6" text-anchor="middle" class="tt">MG1</text>
<text x="125.2" y="154" text-anchor="middle" class="lb tm" textLength="25.2" lengthAdjust="spacingAndGlyphs">Time (h)</text>
<text transform="translate(10.4,82.3) rotate(-90)" text-anchor="middle" class="lb" textLength="54.2" lengthAdjust="spacingAndGlyphs">Electricity (MWh)</text>
<text transform="translate(252.3,81.9) rotate(-90)" text-anchor="middle" class="lb or" textLength="43.4" lengthAdjust="spacingAndGlyphs">Price ($/MWh)</text>
<text x="330.1" y="146.2" text-anchor="middle" class="tk">2</text>
<text x="346.9" y="146.2" text-anchor="middle" class="tk">4</text>
<text x="363.7" y="146.2" text-anchor="middle" class="tk">6</text>
<text x="380.5" y="146.2" text-anchor="middle" class="tk">8</text>
<text x="397.3" y="146.2" text-anchor="middle" class="tk">10</text>
<text x="414.1" y="146.2" text-anchor="middle" class="tk">12</text>
<text x="430.9" y="146.2" text-anchor="middle" class="tk">14</text>
<text x="447.7" y="146.2" text-anchor="middle" class="tk">16</text>
<text x="464.5" y="146.2" text-anchor="middle" class="tk">18</text>
<text x="481.3" y="146.2" text-anchor="middle" class="tk">20</text>
<text x="498.1" y="146.2" text-anchor="middle" class="tk">22</text>
<text x="514.9" y="146.2" text-anchor="middle" class="tk">24</text>
<text x="309.4" y="28.35" text-anchor="end" class="tk">3</text>
<text x="309.4" y="47" text-anchor="end" class="tk">2</text>
<text x="309.4" y="65.65" text-anchor="end" class="tk">1</text>
<text x="309.4" y="84.3" text-anchor="end" class="tk">0</text>
<text x="309.4" y="102.95" text-anchor="end" class="tk">-1</text>
<text x="309.4" y="121.6" text-anchor="end" class="tk">-2</text>
<text x="309.4" y="140.25" text-anchor="end" class="tk">-3</text>
<text x="526.5" y="33" class="tk or">100</text>
<text x="526.5" y="58.73" class="tk or">50</text>
<text x="526.5" y="84.45" class="tk or">0</text>
<text x="526.5" y="110.17" class="tk or">-50</text>
<text x="526.5" y="135.9" class="tk or">-100</text>
<text x="418" y="23.6" text-anchor="middle" class="tt">MG2</text>
<text x="418" y="154" text-anchor="middle" class="lb tm" textLength="25.2" lengthAdjust="spacingAndGlyphs">Time (h)</text>
<text transform="translate(302.7,82.3) rotate(-90)" text-anchor="middle" class="lb" textLength="54.2" lengthAdjust="spacingAndGlyphs">Electricity (MWh)</text>
<text transform="translate(545.6,81.9) rotate(-90)" text-anchor="middle" class="lb or" textLength="43.4" lengthAdjust="spacingAndGlyphs">Price ($/MWh)</text>
<text x="37.2" y="303.1" text-anchor="middle" class="tk">2</text>
<text x="54" y="303.1" text-anchor="middle" class="tk">4</text>
<text x="70.8" y="303.1" text-anchor="middle" class="tk">6</text>
<text x="87.6" y="303.1" text-anchor="middle" class="tk">8</text>
<text x="104.4" y="303.1" text-anchor="middle" class="tk">10</text>
<text x="121.2" y="303.1" text-anchor="middle" class="tk">12</text>
<text x="138" y="303.1" text-anchor="middle" class="tk">14</text>
<text x="154.8" y="303.1" text-anchor="middle" class="tk">16</text>
<text x="171.6" y="303.1" text-anchor="middle" class="tk">18</text>
<text x="188.4" y="303.1" text-anchor="middle" class="tk">20</text>
<text x="205.2" y="303.1" text-anchor="middle" class="tk">22</text>
<text x="222" y="303.1" text-anchor="middle" class="tk">24</text>
<text x="17.1" y="185" text-anchor="end" class="tk">3</text>
<text x="17.1" y="203.7" text-anchor="end" class="tk">2</text>
<text x="17.1" y="222.4" text-anchor="end" class="tk">1</text>
<text x="17.1" y="241.1" text-anchor="end" class="tk">0</text>
<text x="17.1" y="259.8" text-anchor="end" class="tk">-1</text>
<text x="17.1" y="278.5" text-anchor="end" class="tk">-2</text>
<text x="17.1" y="297.2" text-anchor="end" class="tk">-3</text>
<text x="233.2" y="189.85" class="tk or">100</text>
<text x="233.2" y="215.58" class="tk or">50</text>
<text x="233.2" y="241.3" class="tk or">0</text>
<text x="233.2" y="267.03" class="tk or">-50</text>
<text x="233.2" y="292.75" class="tk or">-100</text>
<text x="125.2" y="180" text-anchor="middle" class="tt">MG3</text>
<text x="125.2" y="310.9" text-anchor="middle" class="lb tm" textLength="25.2" lengthAdjust="spacingAndGlyphs">Time (h)</text>
<text transform="translate(10.4,238.95) rotate(-90)" text-anchor="middle" class="lb" textLength="54.2" lengthAdjust="spacingAndGlyphs">Electricity (MWh)</text>
<text transform="translate(252.3,238.55) rotate(-90)" text-anchor="middle" class="lb or" textLength="43.4" lengthAdjust="spacingAndGlyphs">Price ($/MWh)</text>
<text x="335.6" y="195.5" class="lg2" textLength="42.8" lengthAdjust="spacingAndGlyphs">Power from market</text>
<text x="335.6" y="201.9" class="lg2" textLength="28" lengthAdjust="spacingAndGlyphs">Market Price</text>
<text x="330.08" y="303.2" text-anchor="middle" class="tk">2</text>
<text x="346.86" y="303.2" text-anchor="middle" class="tk">4</text>
<text x="363.64" y="303.2" text-anchor="middle" class="tk">6</text>
<text x="380.42" y="303.2" text-anchor="middle" class="tk">8</text>
<text x="397.2" y="303.2" text-anchor="middle" class="tk">10</text>
<text x="413.98" y="303.2" text-anchor="middle" class="tk">12</text>
<text x="430.76" y="303.2" text-anchor="middle" class="tk">14</text>
<text x="447.54" y="303.2" text-anchor="middle" class="tk">16</text>
<text x="464.32" y="303.2" text-anchor="middle" class="tk">18</text>
<text x="481.1" y="303.2" text-anchor="middle" class="tk">20</text>
<text x="497.88" y="303.2" text-anchor="middle" class="tk">22</text>
<text x="514.66" y="303.2" text-anchor="middle" class="tk">24</text>
<text x="309.4" y="297.4" text-anchor="end" class="tk">0</text>
<text x="309.4" y="278.7" text-anchor="end" class="tk">1</text>
<text x="309.4" y="260" text-anchor="end" class="tk">2</text>
<text x="309.4" y="241.3" text-anchor="end" class="tk">3</text>
<text x="309.4" y="222.6" text-anchor="end" class="tk">4</text>
<text x="309.4" y="203.9" text-anchor="end" class="tk">5</text>
<text x="309.4" y="185.2" text-anchor="end" class="tk">6</text>
<text x="526.5" y="297.4" class="tk or">0</text>
<text x="526.5" y="284.86" class="tk or">10</text>
<text x="526.5" y="272.31" class="tk or">20</text>
<text x="526.5" y="259.77" class="tk or">30</text>
<text x="526.5" y="247.22" class="tk or">40</text>
<text x="526.5" y="234.68" class="tk or">50</text>
<text x="526.5" y="222.13" class="tk or">60</text>
<text x="526.5" y="209.59" class="tk or">70</text>
<text x="526.5" y="197.04" class="tk or">80</text>
<text x="526.5" y="184.5" class="tk or">90</text>
<text x="418" y="180" text-anchor="middle" class="tt">DISCO</text>
<text x="418" y="311" text-anchor="middle" class="lb tm" textLength="25.2" lengthAdjust="spacingAndGlyphs">Time (h)</text>
<text transform="translate(303,239) rotate(-90)" text-anchor="middle" class="lb" textLength="54.2" lengthAdjust="spacingAndGlyphs">Electricity (MWh)</text>
<text transform="translate(540.6,238.6) rotate(-90)" text-anchor="middle" class="lb or" textLength="43.4" lengthAdjust="spacingAndGlyphs">Price ($/MWh)</text>
</g>
</svg>
</body></html>
